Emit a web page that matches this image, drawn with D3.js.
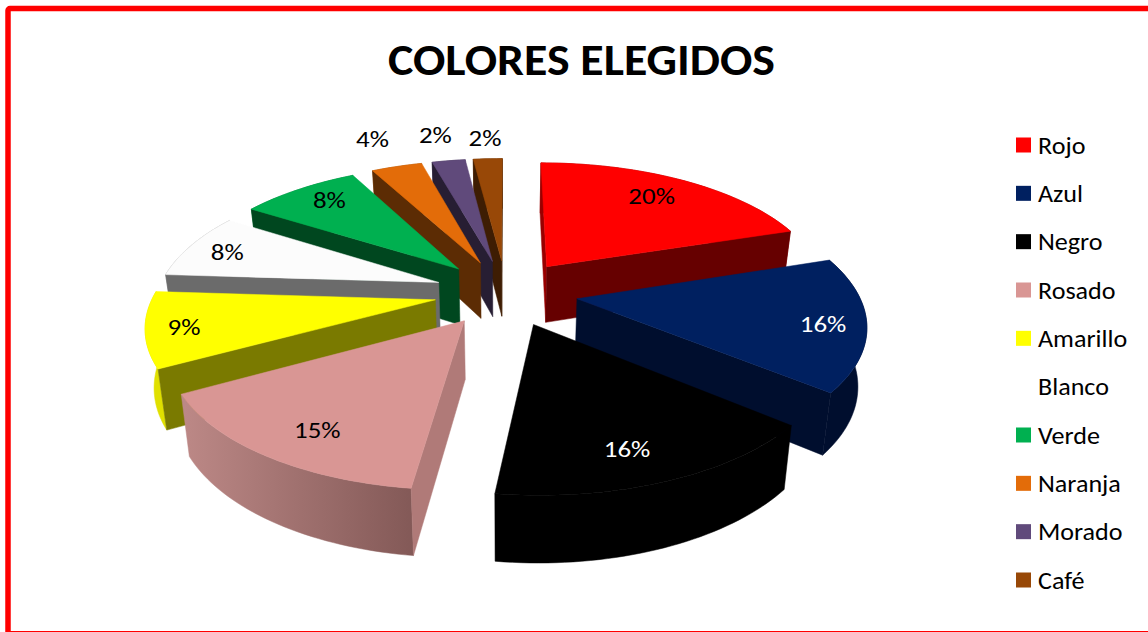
<!DOCTYPE html>
<html><head><meta charset="utf-8">
<script src="https://cdn.jsdelivr.net/npm/d3@7/dist/d3.min.js"></script>
<style>html,body{margin:0;padding:0;background:#fff;overflow:hidden}svg{display:block}text{font-family:Carlito,Lato,"Open Sans",sans-serif}</style>
</head><body><svg id="c" width="1148" height="632"></svg>
<script>
const titleText = "COLORES ELEGIDOS";
const categories = ["Rojo","Azul","Negro","Rosado","Amarillo","Blanco","Verde","Naranja","Morado","Café"];
const values = [20,16,16,15,9,8,8.2,3.5,2.3,2];
const topColors = ["#ff0000","#002060","#000000","#d99694","#ffff00","#fcfcfc","#00b050","#e36c09","#604a7b","#984807"];
const wallColors = ["#660000","#000e2e","#000000","#b07a78","#7a7a00","#6b6b6b","#00471f","#5c2c04","#271e33","#3e1d03"];
const startWallColors = ["#990000","#000e2e","#000000","#b07a78","#7a7a00","#6b6b6b","#00471f","#5c2c04","#271e33","#3e1d03"];
const outerColors = ["#990000","#000e2e","#000000","#b88684","#e0e000","#9a9a9a","#007a38","#9c4c06","#413254","#683004"];
const labelColors = ["#000","#fff","#fff","#000","#000","#000","#000","#000","#000","#000"];
const labelRadius = [0.78,0.87,0.86,0.80,0.87,0.84,0.83,1.35,1.34,1.23];
const labelNudgeX = [-4,-5,-19,7,0,-2,6,0,-1,0];
const labelNudgeY = [-2,3,-6,5,1,1,-2,0,2,-1];

const svg = d3.select("#c");
const cx=506, cy=292.5, R=281, T=129.5, k=0.17, explode=0.255, depth=57, shrink=0.975;
function project(X,Y){ const w=1/(1+k*Y); return {x:cx+R*X*w, y:cy-T*Y*w, w}; }
function low(p){ return {x:cx+(p.x-cx)*shrink, y:p.y+depth*(1+0.7*(p.w-1))}; }
const line=d3.line().x(d=>d.x).y(d=>d.y);
function frontFacing(ap,edge,inside){
  const ex=edge.x-ap.x, ey=edge.y-ap.y; let nx=-ey, ny=ex;
  if(nx*(inside.x-ap.x)+ny*(inside.y-ap.y)<0){nx=-nx;ny=-ny;}
  return ny<0;
}
const defs=svg.append("defs");
const grad=defs.append("linearGradient").attr("id","rosaWall").attr("gradientUnits","userSpaceOnUse")
  .attr("x1",185).attr("x2",418).attr("y1",0).attr("y2",0);
grad.append("stop").attr("offset",0).attr("stop-color","#bc8886");
grad.append("stop").attr("offset",1).attr("stop-color","#825856");

svg.append("rect").attr("x",8).attr("y",8.5).attr("width",1200).attr("height",625.2).attr("rx",2)
  .attr("fill","#fff").attr("stroke","#ff0000").attr("stroke-width",5.5);

svg.append("text").attr("x",581.5).attr("y",75).attr("text-anchor","middle")
  .attr("font-size",44).attr("font-weight",700).attr("fill","#000")
  .attr("textLength",387).attr("lengthAdjust","spacingAndGlyphs").text(titleText);

const arcs=d3.pie().sort(null).startAngle(0).endAngle(2*Math.PI)(values);
const slices=arcs.map((a,i)=>{
  const mid=(a.startAngle+a.endAngle)/2, ex=explode*Math.sin(mid), ey=explode*Math.cos(mid);
  const n=Math.max(4,Math.round((a.endAngle-a.startAngle)*40));
  const arc=d3.range(n+1).map(j=>{
    const t=a.startAngle+(a.endAngle-a.startAngle)*j/n;
    return project(ex+Math.sin(t),ey+Math.cos(t));
  });
  return {i,mid,ex,ey,apex:project(ex,ey),arc};
});
const order=slices.slice().sort((a,b)=>a.apex.y-b.apex.y);
const g=svg.append("g");
order.forEach(s=>{
  const a0=s.arc[0], a1=s.arc[s.arc.length-1], ap=s.apex, am=s.arc[Math.floor(s.arc.length/2)];
  const gs=g.append("g");
  const outerFill=categories[s.i]==="Rosado"?"url(#rosaWall)":outerColors[s.i];
  gs.append("path").attr("d",line(s.arc.concat(s.arc.map(low).reverse()))+"Z")
    .attr("fill",outerFill).attr("stroke",outerFill).attr("stroke-width",0.5);
  if(frontFacing(ap,a0,am)) gs.append("path").attr("d",line([a0,ap,low(ap),low(a0)])+"Z")
    .attr("fill",startWallColors[s.i]).attr("stroke",startWallColors[s.i]).attr("stroke-width",0.5);
  if(frontFacing(ap,a1,am)) gs.append("path").attr("d",line([a1,ap,low(ap),low(a1)])+"Z")
    .attr("fill",wallColors[s.i]).attr("stroke",wallColors[s.i]).attr("stroke-width",0.5);
  gs.append("path").attr("d",line([ap].concat(s.arc))+"Z").attr("fill",topColors[s.i])
    .attr("stroke",topColors[s.i]).attr("stroke-width",0.5);
});
function stretch(sel,f){
  sel.each(function(){
    const L=this.getComputedTextLength();
    d3.select(this).attr("textLength",L*f).attr("lengthAdjust","spacingAndGlyphs");
  });
}
slices.forEach(s=>{
  const u=labelRadius[s.i]+explode, p=project(u*Math.sin(s.mid),u*Math.cos(s.mid));
  const t=svg.append("text").attr("x",p.x+labelNudgeX[s.i]).attr("y",p.y+8+labelNudgeY[s.i]).attr("text-anchor","middle")
    .attr("font-size",23).attr("fill",labelColors[s.i]).text(Math.round(values[s.i])+"%");
  stretch(t,1.17);
});
const ly=d3.scalePoint().domain(categories).range([145,580]);
const lg=svg.append("g").selectAll("g").data(categories).join("g").attr("transform",d=>`translate(0,${ly(d)})`);
lg.append("rect").attr("x",1016).attr("y",-7.5).attr("width",15).attr("height",15).attr("fill",(d,i)=>topColors[i]==="#fcfcfc"?"#fff":topColors[i]);
stretch(lg.append("text").attr("x",1038).attr("y",8.5).attr("font-size",23.5).attr("fill","#000").text(d=>d),1.11);
</script></body></html>
